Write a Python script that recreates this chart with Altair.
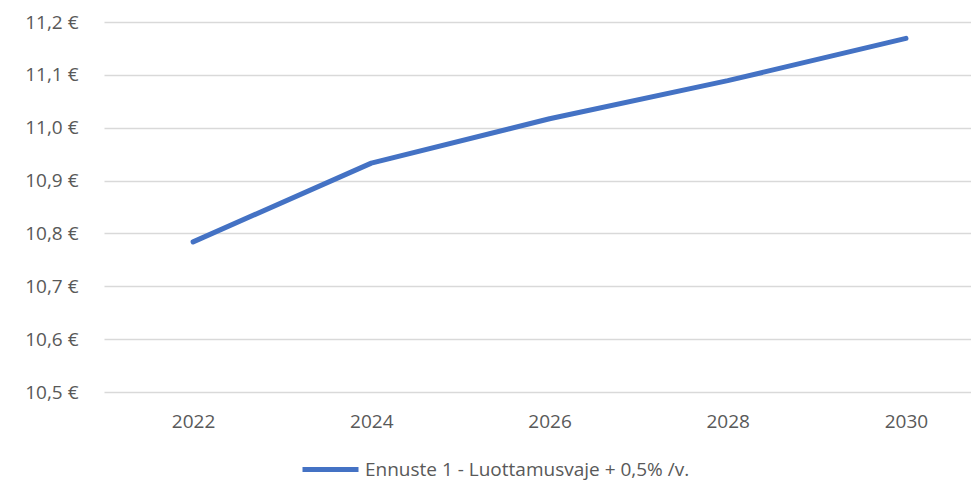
import altair as alt
import pandas as pd

years = [2022, 2024, 2026, 2028, 2030]
values = [10.784, 10.933, 11.017, 11.089, 11.169]
series = "Ennuste 1 - Luottamusvaje + 0,5% /v."
y_ticks = [10.5, 10.6, 10.7, 10.8, 10.9, 11.0, 11.1, 11.2]

df = pd.DataFrame({"year": years, "value": values, "series": [series] * len(years)})

FONT = "Open Sans"
GREY = "#595959"

chart = alt.Chart(df).mark_line(strokeWidth=5, strokeCap="round", strokeJoin="round").encode(
    x=alt.X("year:Q",
            scale=alt.Scale(domain=[2021, 2030.73], nice=False, zero=False),
            axis=alt.Axis(values=years, format="d", title=None, grid=False, domain=False,
                          ticks=False, labelPadding=20, labelFontSize=19, labelColor=GREY,
                          labelFont=FONT)),
    y=alt.Y("value:Q",
            scale=alt.Scale(domain=[10.5, 11.2], nice=False, zero=False),
            axis=alt.Axis(values=y_ticks, title=None, domain=False, ticks=False,
                          labelExpr="replace(format(datum.value, '.1f'), '.', ',') + ' €'",
                          labelPadding=26, labelFontSize=19, labelColor=GREY, labelFont=FONT,
                          gridColor="#d9d9d9", gridWidth=1.3)),
    color=alt.Color("series:N", scale=alt.Scale(range=["#4472c4"]),
                    legend=alt.Legend(title=None, orient="none", legendX=196, legendY=417,
                                      padding=0, offset=0, labelLimit=0,
                                      symbolType="stroke", symbolSize=3136, symbolStrokeWidth=5,
                                      labelFontSize=19, labelColor=GREY, labelFont=FONT,
                                      labelOffset=4)),
).properties(
    width=867,
    height=370,
    autosize=alt.AutoSizeParams(type="none"),
    padding={"left": 96, "top": 14, "right": 0, "bottom": 89},
).configure(background="white").configure_view(stroke=None)

chart.save("out.html", embed_options={"renderer": "svg", "actions": False})
